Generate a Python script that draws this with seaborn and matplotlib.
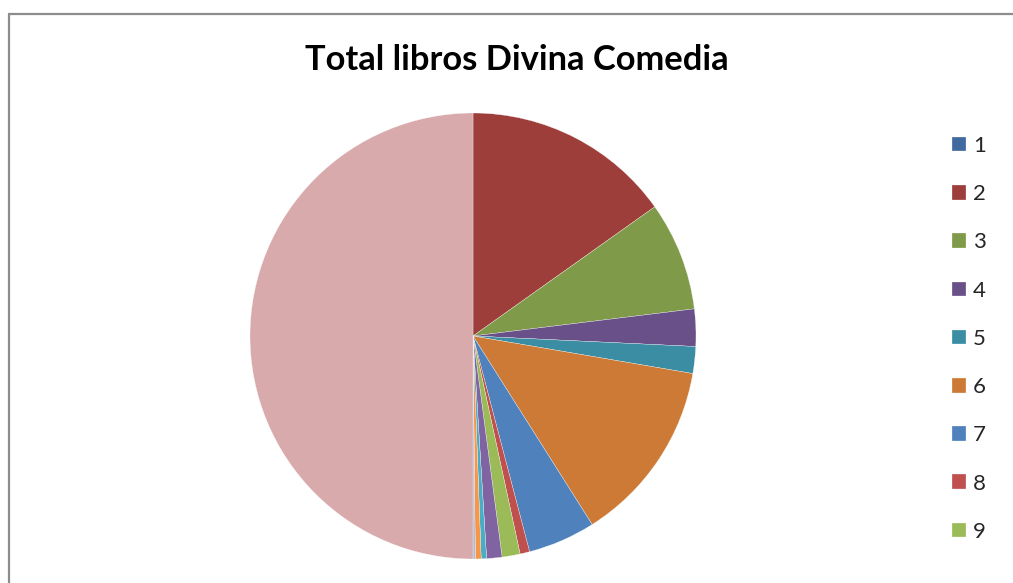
import matplotlib
matplotlib.use("Agg")
import matplotlib.pyplot as plt
from matplotlib.lines import Line2D
import seaborn as sns

# Data: books of the Divina Comedia (slice 14 is the total)
libros = ["1", "2", "3", "4", "5", "6", "7", "8", "9", "10", "11", "12", "13", "14"]
totales = [0, 546, 284, 97, 70, 480, 176, 25, 47, 40, 14, 15, 6, 1800]
colores = ["#3F6A9E", "#9E3E3B", "#7F9A48", "#6A5088", "#3B8DA3", "#CC7A36",
           "#4F81BD", "#C0504D", "#9BBB59", "#8064A2", "#4BACC6", "#F79646",
           "#A9BCDC", "#D9AAAB"]
n_leyenda = 9  # legend is cut off after 9 entries

sns.set_theme(style="white")
plt.rcParams["font.family"] = ["Lato", "DejaVu Sans"]

W, H = 1013, 583
fig = plt.figure(figsize=(W / 100, H / 100), dpi=100)
fig.patch.set_facecolor("white")

# pie axes: centre (473, 336), radius 223 px
cx, cy, r = 473, 336, 223
ax = fig.add_axes([(cx - r) / W, 1 - (cy + r) / H, 2 * r / W, 2 * r / H])
wedges, _ = ax.pie(totales, colors=colores, startangle=90, counterclock=False,
                   radius=1, wedgeprops=dict(edgecolor="white", linewidth=0.2))
ax.set_xlim(-1, 1)
ax.set_ylim(-1, 1)
ax.set_aspect("equal")
ax.axis("off")

fig.text(517 / W, 1 - 60 / H, "Total libros Divina Comedia", ha="center", va="center",
         fontsize=24.8, fontweight="bold", color="black")

leg = fig.legend(wedges[:n_leyenda], libros[:n_leyenda], loc="upper left",
                 bbox_to_anchor=(952 / W, 1 - 136 / H), frameon=False,
                 fontsize=16, handlelength=0.63, handleheight=0.63, handletextpad=0.32,
                 labelspacing=1.27, borderpad=0, borderaxespad=0)

# chart frame (only top and left edges visible)
fig.add_artist(Line2D([9 / W, 1], [1 - 14 / H, 1 - 14 / H], transform=fig.transFigure,
                      color="#8C8C8C", linewidth=1.6))
fig.add_artist(Line2D([9 / W, 9 / W], [0, 1 - 14 / H], transform=fig.transFigure,
                      color="#8C8C8C", linewidth=1.6))

fig.savefig("out.png", dpi=100, facecolor="white")
